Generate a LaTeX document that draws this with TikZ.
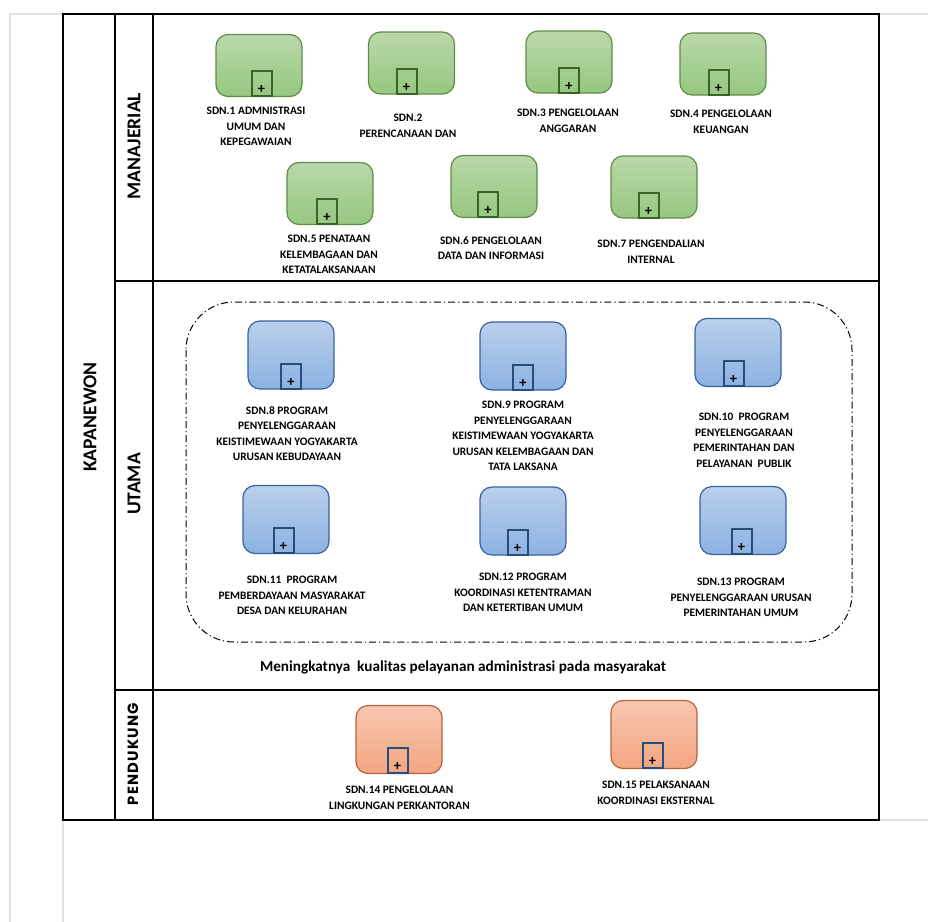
\documentclass[tikz,border=0pt]{standalone}
\usepackage{fontspec}
\setmainfont{Carlito}
\newfontfamily\geofont{Poppins}[LetterSpace=8]
\definecolor{mgrtop}{RGB}{186,216,170}
\definecolor{mgrbot}{RGB}{150,199,128}
\definecolor{mgredge}{RGB}{96,140,70}
\definecolor{mgrmark}{RGB}{62,98,44}
\definecolor{utmtop}{RGB}{186,207,236}
\definecolor{utmbot}{RGB}{140,178,226}
\definecolor{utmedge}{RGB}{56,98,160}
\definecolor{utmmark}{RGB}{38,78,122}
\definecolor{pdktop}{RGB}{248,198,176}
\definecolor{pdkbot}{RGB}{244,166,130}
\definecolor{pdkedge}{RGB}{178,102,62}
\definecolor{frame}{RGB}{226,226,226}
\tikzset{
  lanerule/.style={line width=1pt},
  thinrule/.style={line width=0.8pt},
  sdnbox/.style={rounded corners=6pt, line width=0.6pt, minimum width=43pt, inner sep=0pt},
  mgrbox/.style={sdnbox, draw=mgredge, top color=mgrtop, bottom color=mgrbot, minimum height=31pt},
  utmbox/.style={sdnbox, draw=utmedge, top color=utmtop, bottom color=utmbot, minimum height=34pt},
  pdkbox/.style={sdnbox, draw=pdkedge, top color=pdktop, bottom color=pdkbot, minimum height=34pt},
  submark/.style={draw, line width=1pt, minimum width=10pt, minimum height=12.5pt, inner sep=0pt,
    anchor=south, font=\fontsize{7.2}{7}\selectfont\bfseries, text height=10pt, text depth=0pt},
  sdnlabel/.style={anchor=north, align=center, inner sep=0pt, font=\fontsize{5.7}{7.75}\selectfont\bfseries},
  lanelabel/.style={rotate=90, inner sep=0pt, font=\fontsize{9.8}{10}\selectfont\bfseries},
  groupline/.style={line width=0.5pt, rounded corners=24pt, dash pattern=on 3.5pt off 1.5pt on 0.6pt off 1.5pt}
}
\begin{document}
\begin{tikzpicture}[x=0.5pt,y=-0.5pt]
   \useasboundingbox (0,0) rectangle (928,922);
   % page frame
   \draw[frame, line width=1.2pt] (10,922) -- (10,14) -- (928,14);
   \draw[frame, line width=1.2pt] (63,820) -- (63,922);
   \draw[frame, line width=1.2pt] (879,820) -- (928,820);
   % pool and lanes
   \draw[lanerule] (63,14) rectangle (879,820);
   \draw[lanerule] (115,14) -- (115,820);
   \draw[lanerule] (153,14) -- (153,820);
   \draw[thinrule] (115,281) -- (879,281);
   \draw[thinrule] (115,690) -- (879,690);
   \node[lanelabel] (kapanewon) at (90,417) {KAPANEWON};
   \node[lanelabel] (manajerial) at (134,146) {MANAJERIAL};
   \node[lanelabel] (utama) at (134,484) {UTAMA};
   \node[lanelabel, font=\geofont\fontsize{7.4}{8}\selectfont\bfseries] (pendukung) at (133,754) {PENDUKUNG};

   % manajerial
   \node[mgrbox] (sdn1) at (259,65.5) {};
   \node[submark, draw=mgrmark] (sdn1m) at ([xshift=1.25pt]sdn1.south) {+};
   \node[sdnlabel] (sdn1t) at (256,107) {SDN.1 ADMNISTRASI\\UMUM DAN\\KEPEGAWAIAN};
   \node[mgrbox] (sdn2) at (411.5,63) {};
   \node[submark, draw=mgrmark] (sdn2m) at ([xshift=-2.5pt]sdn2.south) {+};
   \node[sdnlabel] (sdn2t) at (408,114) {SDN.2\\PERENCANAAN DAN};
   \node[mgrbox] (sdn3) at (569,62) {};
   \node[submark, draw=mgrmark] (sdn3m) at (sdn3.south) {+};
   \node[sdnlabel] (sdn3t) at (568,109) {SDN.3 PENGELOLAAN\\ANGGARAN};
   \node[mgrbox] (sdn4) at (723,64) {};
   \node[submark, draw=mgrmark] (sdn4m) at ([xshift=-2.25pt]sdn4.south) {+};
   \node[sdnlabel] (sdn4t) at (721,110) {SDN.4 PENGELOLAAN\\KEUANGAN};
   \node[mgrbox] (sdn5) at (330,193.5) {};
   \node[submark, draw=mgrmark] (sdn5m) at ([xshift=-1.5pt]sdn5.south) {+};
   \node[sdnlabel] (sdn5t) at (329,235) {SDN.5 PENATAAN\\KELEMBAGAAN DAN\\KETATALAKSANAAN};
   \node[mgrbox] (sdn6) at (494,186.5) {};
   \node[submark, draw=mgrmark] (sdn6m) at ([xshift=-3pt]sdn6.south) {+};
   \node[sdnlabel] (sdn6t) at (491,236) {SDN.6 PENGELOLAAN\\DATA DAN INFORMASI};
   \node[mgrbox] (sdn7) at (654,187) {};
   \node[submark, draw=mgrmark] (sdn7m) at ([xshift=-2.75pt]sdn7.south) {+};
   \node[sdnlabel] (sdn7t) at (651,240) {SDN.7 PENGENDALIAN\\INTERNAL};

   % utama
   \draw[groupline] (186,302) rectangle (852,642);
   \node[utmbox] (sdn8) at (291,355) {};
   \node[submark, draw=utmmark] (sdn8m) at (sdn8.south) {+};
   \node[sdnlabel] (sdn8t) at (287,406) {SDN.8 PROGRAM\\PENYELENGGARAAN\\KEISTIMEWAAN YOGYAKARTA\\URUSAN KEBUDAYAAN};
   \node[utmbox] (sdn9) at (523,356) {};
   \node[submark, draw=utmmark] (sdn9m) at (sdn9.south) {+};
   \node[sdnlabel] (sdn9t) at (523,401) {SDN.9 PROGRAM\\PENYELENGGARAAN\\KEISTIMEWAAN YOGYAKARTA\\URUSAN KELEMBAGAAN DAN\\TATA LAKSANA};
   \node[utmbox] (sdn10) at (738,352.5) {};
   \node[submark, draw=utmmark] (sdn10m) at ([xshift=-2.25pt]sdn10.south) {+};
   \node[sdnlabel] (sdn10t) at (744,413) {SDN.10\ \ PROGRAM\\PENYELENGGARAAN\\PEMERINTAHAN DAN\\PELAYANAN\ \ PUBLIK};
   \node[utmbox] (sdn11) at (286,519.5) {};
   \node[submark, draw=utmmark] (sdn11m) at ([xshift=-1.25pt]sdn11.south) {+};
   \node[sdnlabel] (sdn11t) at (292,576) {SDN.11\ \ PROGRAM\\PEMBERDAYAAN MASYARAKAT\\DESA DAN KELURAHAN};
   \node[utmbox] (sdn12) at (523,521) {};
   \node[submark, draw=utmmark] (sdn12m) at ([xshift=-2.75pt]sdn12.south) {+};
   \node[sdnlabel] (sdn12t) at (523,573) {SDN.12 PROGRAM\\KOORDINASI KETENTRAMAN\\DAN KETERTIBAN UMUM};
   \node[utmbox] (sdn13) at (743,520.5) {};
   \node[submark, draw=utmmark] (sdn13m) at ([xshift=-0.75pt]sdn13.south) {+};
   \node[sdnlabel] (sdn13t) at (741,578) {SDN.13 PROGRAM\\PENYELENGGARAAN URUSAN\\PEMERINTAHAN UMUM};
   \node[font=\fontsize{7.6}{9}\selectfont\bfseries] (goal) at (463,667) {Meningkatnya\ \ kualitas pelayanan administrasi pada masyarakat};

   % pendukung
   \node[pdkbox] (sdn14) at (399,739.5) {};
   \node[submark, draw=utmmark] (sdn14m) at ([xshift=-0.75pt]sdn14.south) {+};
   \node[sdnlabel] (sdn14t) at (399.5,786) {SDN.14 PENGELOLAAN\\LINGKUNGAN PERKANTORAN};
   \node[pdkbox] (sdn15) at (654,734.5) {};
   \node[submark, draw=utmmark] (sdn15m) at ([xshift=-0.75pt]sdn15.south) {+};
   \node[sdnlabel] (sdn15t) at (656,781) {SDN.15 PELAKSANAAN\\KOORDINASI EKSTERNAL};
\end{tikzpicture}
\end{document}
